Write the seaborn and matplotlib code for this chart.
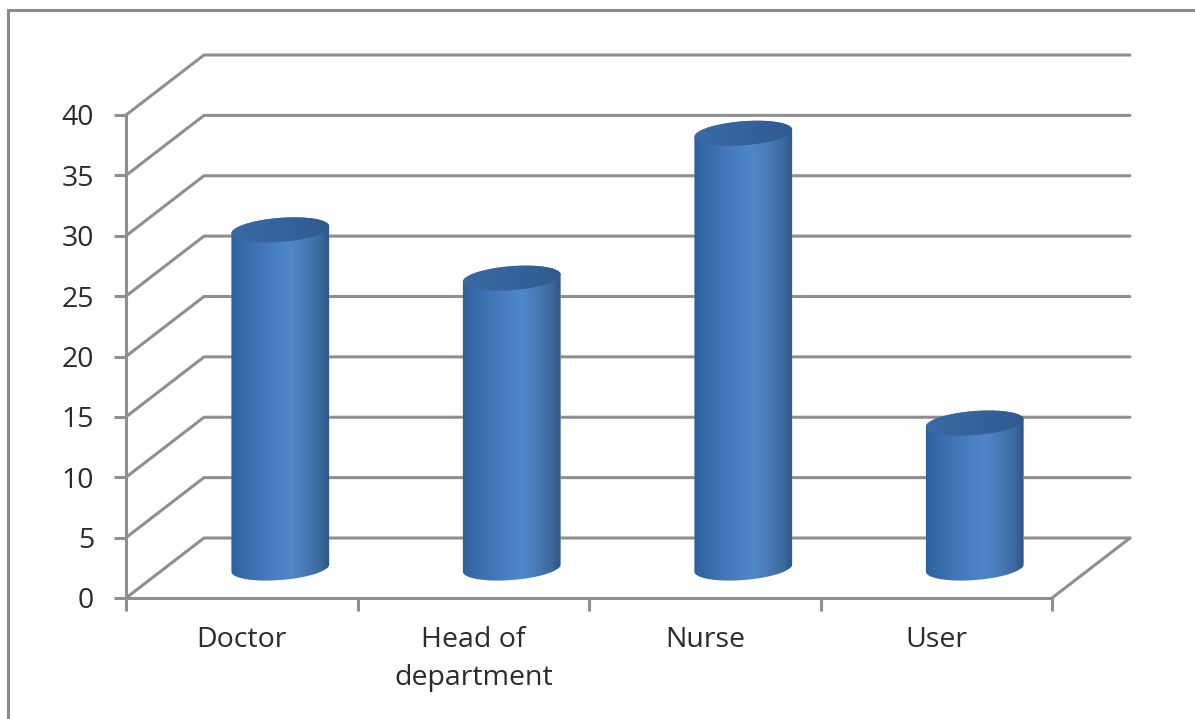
import numpy as np
import pandas as pd
import matplotlib
matplotlib.use("Agg")
import matplotlib.pyplot as plt
import seaborn as sns
from matplotlib.colors import LinearSegmentedColormap
from matplotlib.lines import Line2D
from matplotlib.path import Path
from matplotlib.patches import PathPatch
from matplotlib.transforms import Affine2D, IdentityTransform

categories = ["Doctor", "Head of\ndepartment", "Nurse", "User"]
values = [28, 24, 36, 12]
y_ticks = [0, 5, 10, 15, 20, 25, 30, 35, 40]

W, H = 1195, 719
LINE = "#8f8f8f"
TEXT = "#2b2b2b"
DEPTH_X, DEPTH_Y = 78, 60   # px of the 3D floor depth
BAR_W = 97                  # px
sns.set_theme(style="white")
plt.rcParams["font.family"] = ["Open Sans", "DejaVu Sans"]

fig = plt.figure(figsize=(W / 100, H / 100), dpi=100, facecolor="white")
ax = fig.add_axes([126 / W, 1 - 598 / H, 926 / W, 483 / H])
df = pd.DataFrame({"cat": categories, "val": values})
sns.barplot(data=df, x="cat", y="val", color="#4a7fbe", width=BAR_W / 231.5,
            saturation=1, ax=ax, zorder=3)
ax.set_xlim(-0.5, 3.5)
ax.set_ylim(0, 40)
ax.set_xlabel("")
ax.set_ylabel("")
ax.set_yticks(y_ticks)
ax.patch.set_alpha(0)

for side in ["top", "right"]:
    ax.spines[side].set_visible(False)
for side in ["left", "bottom"]:
    ax.spines[side].set_color(LINE)
    ax.spines[side].set_linewidth(2.2)
ax.set_xticks([-0.5, 0.5, 1.5, 2.5, 3.5])
ax.set_xticklabels([])
ax.set_xticks([0, 1, 2, 3], labels=categories, minor=True)
ax.tick_params(axis="x", which="major", length=9, width=2.2, color=LINE, direction="out", bottom=True)
ax.tick_params(axis="x", which="minor", length=0, pad=20, labelsize=20.5, labelcolor=TEXT)
ax.tick_params(axis="y", length=9, width=2.2, color=LINE, direction="out", left=True,
               pad=14, labelsize=20.5, labelcolor=TEXT)
for lab in ax.get_xticklabels(minor=True):
    lab.set_linespacing(1.5)
    lab.set_verticalalignment("top")

fig.canvas.draw()
px_x = ax.transData.transform((1, 0))[0] - ax.transData.transform((0, 0))[0]
px_y = ax.transData.transform((0, 1))[1] - ax.transData.transform((0, 0))[1]
dx, dy = DEPTH_X / px_x, DEPTH_Y / px_y

# walls and floor
for v in y_ticks:
    ax.plot([-0.5, -0.5 + dx, 3.5 + dx], [v, v + dy, v + dy], color=LINE, lw=2.2,
            clip_on=False, zorder=1, solid_joinstyle="miter")
ax.plot([3.5, 3.5 + dx], [0, dy], color=LINE, lw=2.2, clip_on=False, zorder=1)

# cylinders: shade each seaborn bar
body_cmap = LinearSegmentedColormap.from_list(
    "body", [(0, "#2e5f9c"), (0.2, "#3a70b0"), (0.45, "#4a80c2"), (0.6, "#4f87c9"),
             (0.75, "#4879b5"), (0.9, "#3a679c"), (1, "#2c5180")])
cap_cmap = LinearSegmentedColormap.from_list("cap", ["#3a6ba6", "#35639c", "#2f5a8e"])
grad = np.linspace(0, 1, 256)[None, :]
SEMI_A, SEMI_B, TILT = 49, 12, np.radians(-4.5)
mid = Affine2D().translate(DEPTH_X / 2 - 0.5, DEPTH_Y / 2)


def ellipse_pts(cx, cy, t):
    xs, ys = SEMI_A * np.cos(t), SEMI_B * np.sin(t)
    c, s = np.cos(-TILT), np.sin(-TILT)
    return np.column_stack([cx + xs * c - ys * s, cy + xs * s + ys * c])


for bar in list(ax.patches):
    x0, w, h = bar.get_x(), bar.get_width(), bar.get_height()
    xc = x0 + w / 2
    top = ax.transData.transform((xc, h)) + (DEPTH_X / 2 - 0.5, DEPTH_Y / 2)
    bot = ax.transData.transform((xc, 0)) + (DEPTH_X / 2 - 0.5, DEPTH_Y / 2)
    bottom_arc = ellipse_pts(bot[0], bot[1], np.linspace(np.pi, 2 * np.pi, 60))
    top_arc = ellipse_pts(top[0], top[1], np.linspace(0, np.pi, 60))
    body = Path(np.vstack([bottom_arc, top_arc, bottom_arc[:1]]), closed=True)
    body_patch = PathPatch(body, transform=IdentityTransform(), fc="none", ec="none")
    cap = Path(ellipse_pts(top[0], top[1], np.linspace(0, 2 * np.pi, 120)), closed=True)
    cap_patch = PathPatch(cap, transform=IdentityTransform(), fc="none", ec="none")
    ax.add_patch(body_patch)
    ax.add_patch(cap_patch)

    bar.set_transform(ax.transData + mid)
    bar.set_clip_path(body_patch)

    ext = [x0 + dx / 2 - 0.01, x0 + w + dx / 2 + 0.01, -5, h + dy]
    im = ax.imshow(grad, cmap=body_cmap, aspect="auto", zorder=4, interpolation="bilinear", extent=ext)
    im.set_clip_path(body_patch)
    im2 = ax.imshow(grad, cmap=cap_cmap, aspect="auto", zorder=5, interpolation="bilinear", extent=ext)
    im2.set_clip_path(cap_patch)

ax.set_xlim(-0.5, 3.5)
ax.set_ylim(0, 40)

# outer frame of the chart area
for xs, ys in [([8, W], [10, 10]), ([8, 8], [10, H])]:
    fig.add_artist(Line2D([x / W for x in xs], [1 - y / H for y in ys], color="#8a8a8a",
                          lw=2.2, solid_capstyle="projecting"))

fig.savefig("out.png", dpi=100, facecolor="white")
